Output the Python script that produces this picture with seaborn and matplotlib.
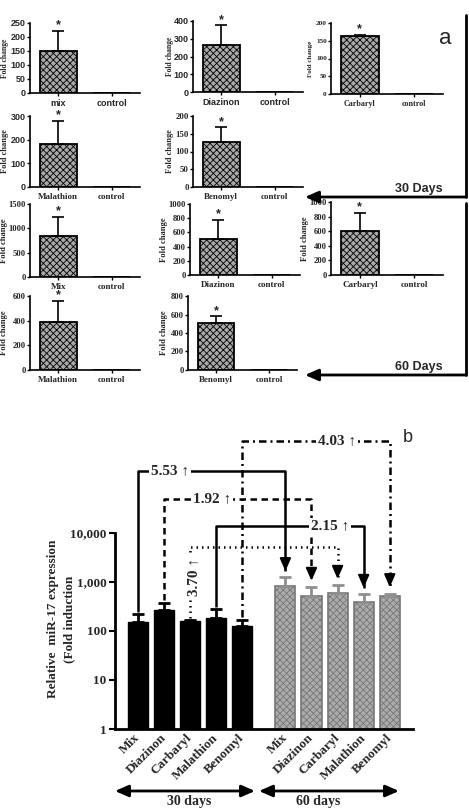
import numpy as np
import pandas as pd
import matplotlib
matplotlib.use("Agg")
import matplotlib.pyplot as plt
import seaborn as sns

# ---------------- data ----------------
compounds_b = ["Mix", "Diazinon", "Carbaryl", "Malathion", "Benomyl"]
labels_a_30 = ["mix", "Diazinon", "Carbaryl", "Malathion", "Benomyl"]
labels_a_60 = ["Mix", "Diazinon", "Carbaryl", "Malathion", "Benomyl"]
fold_30 = [150, 265, 163, 180, 127]
sem_30 = [72, 110, 3, 100, 41]
fold_60 = [840, 510, 600, 390, 510]
sem_60 = [390, 270, 255, 170, 70]
control_fold = 1
ymax_30 = [250, 400, 200, 300, 200]
ystep_30 = [50, 100, 50, 100, 50]
ymax_60 = [1500, 1000, 1000, 600, 800]
ystep_60 = [500, 200, 200, 200, 200]
fold_increase = ["5.53", "1.92", "3.70", "2.15", "4.03"]
log_ticks = [1, 10, 100, 1000, 10000]
log_tick_labels = ["1", "10", "100", "1,000", "10,000"]
period_labels = ["30 days", "60 days"]

sns.set_style("ticks")
plt.rcParams["hatch.linewidth"] = 0.6
SANS = ["Liberation Sans", "DejaVu Sans"]
SERIF = ["Liberation Serif", "DejaVu Serif"]

W, H = 469, 808
fig = plt.figure(figsize=(W / 100, H / 100), dpi=100)


def add_px(l, t, r, b):
    return fig.add_axes([l / W, 1 - b / H, (r - l) / W, (b - t) / H])


# ---------------- panel a ----------------
rects_30 = [(30, 23, 140, 93), (193, 21, 303, 92), (331, 23, 443, 94),
            (30, 116, 140, 187), (193, 116, 303, 187)]
rects_60 = [(30, 204, 140, 277), (190, 204, 300, 275), (331, 202, 443, 275),
            (30, 296, 140, 370), (188, 296, 297, 370)]
ylab_x_30 = [5, 170, 310, 5, 170]
ylab_x_60 = [4, 164, 305, 4, 164]
# (tick family, tick size, label family, label size, ylabel size)
styles_30 = [(SANS, 6.5, SANS, 6.5, 5.5), (SANS, 6.5, SANS, 6.5, 5.5),
             (SERIF, 5.2, SERIF, 5.8, 5.0), (SANS, 6.5, SERIF, 6.5, 6.0),
             (SERIF, 6.3, SERIF, 6.5, 6.0)]
styles_60 = [(SERIF, 6.2, SERIF, 6.5, 6.2)] * 5


def small_panel(rect, lab, val, sem, ymax, step, st, ylx):
    tf, ts, lf, ls, ys = st
    l, t, r, b = rect
    ax = add_px(*rect)
    sns.barplot(x=[lab, "control"], y=[val, control_fold], color="#a9a9a9",
                edgecolor="black", linewidth=1.3, width=0.69, saturation=1,
                ax=ax)
    for p in ax.patches:
        p.set_hatch("xxxxx")
    ax.errorbar([0], [val], yerr=[[0], [sem]], fmt="none", ecolor="black",
                elinewidth=1.2, capsize=4, capthick=1.2)
    ax.annotate("*", xy=(0, val + sem), xytext=(0, 4),
                textcoords="offset points", ha="center", va="center",
                fontsize=9, fontweight="bold", family=SANS,
                annotation_clip=False)
    ax.set_xlim(-0.53, 1.53)
    ax.set_ylim(0, ymax)
    ax.set_yticks(np.arange(0, ymax + 1, step))
    ax.set_xticks([0, 1])
    ax.set_xticklabels([lab, "control"], family=lf, fontsize=ls,
                       fontweight="bold")
    for tl in ax.get_yticklabels():
        tl.set_family(tf)
        tl.set_fontsize(ts)
        tl.set_fontweight("bold")
    ax.set_xlabel("")
    ax.set_ylabel("Fold change", family=SERIF, fontsize=ys,
                  fontweight="bold", va="center")
    ax.yaxis.set_label_coords((ylx - l) / (r - l), 0.5)
    for s in ["top", "right"]:
        ax.spines[s].set_visible(False)
    for s in ["left", "bottom"]:
        ax.spines[s].set_linewidth(1.2)
        ax.spines[s].set_color("black")
    ax.tick_params(axis="y", length=2.5, width=1, pad=0.5, color="black")
    ax.tick_params(axis="x", length=2, width=1, pad=2, color="black")
    return ax


for i in range(5):
    small_panel(rects_30[i], labels_a_30[i], fold_30[i], sem_30[i],
                ymax_30[i], ystep_30[i], styles_30[i], ylab_x_30[i])
    small_panel(rects_60[i], labels_a_60[i], fold_60[i], sem_60[i],
                ymax_60[i], ystep_60[i], styles_60[i], ylab_x_60[i])

# ---------------- panel b ----------------
axb = add_px(115, 425, 413, 729)
pos_30 = np.arange(5, dtype=float)
pos_60 = np.arange(5, dtype=float) + 5.65
df_b = pd.DataFrame({
    "pos": np.concatenate([pos_30, pos_60]),
    "fold": fold_30 + fold_60,
    "period": [period_labels[0]] * 5 + [period_labels[1]] * 5,
})
sns.barplot(data=df_b, x="pos", y="fold", hue="period",
            palette={period_labels[0]: "black", period_labels[1]: "#ababab"},
            native_scale=True, dodge=False, width=0.77, errorbar=None,
            saturation=1, legend=False, ax=axb)
for p in axb.patches:
    if p.get_x() > 5:
        p.set_edgecolor("#777777")
        p.set_linewidth(1.2)
        p.set_hatch("xxxxx")
    else:
        p.set_edgecolor("black")
axb.set_yscale("log")
axb.errorbar(pos_30, fold_30, yerr=[[0] * 5, sem_30], fmt="none",
             ecolor="black", elinewidth=2, capsize=4, capthick=2)
axb.errorbar(pos_60, fold_60, yerr=[[0] * 5, sem_60], fmt="none",
             ecolor="#8f8f8f", elinewidth=2, capsize=4, capthick=2)
axb.set_ylim(1, 10 ** 6.2)
axb.set_xlim(-0.88, 10.54)
axb.set_yticks(log_ticks)
axb.set_yticklabels(log_tick_labels, family=SERIF, fontsize=9.5,
                    fontweight="bold")
axb.minorticks_off()
axb.set_xticks(np.concatenate([pos_30, pos_60]))
axb.set_xticklabels(compounds_b + compounds_b, rotation=45, ha="right",
                    va="center", rotation_mode="anchor", family=SERIF,
                    fontsize=9.5, fontweight="bold")
axb.tick_params(axis="x", length=0, pad=5)
axb.tick_params(axis="y", length=4, width=1.5, pad=2, color="black")
axb.set_xlabel("")
axb.set_ylabel("")
axb.spines["top"].set_visible(False)
axb.spines["right"].set_visible(False)
axb.spines["left"].set_bounds(1, 10000)
for s in ["left", "bottom"]:
    axb.spines[s].set_linewidth(2)
    axb.spines[s].set_color("black")
axb.patch.set_alpha(0)

# comparison brackets (30 days -> 60 days)
levels = [5.27, 4.69, 3.71, 4.14, 5.88]
text_x = [1.23, 2.84, None, 7.36, 7.62]
styles_b = ["-", (0, (2.6, 1.8)), (0, (0.6, 1.6)), "-",
            (0, (3, 1.6, 0.8, 1.6))]
for i in range(5):
    yl = 10 ** levels[i]
    xa, xb = pos_30[i], pos_60[i]
    y_start = (fold_30[i] + sem_30[i]) * 1.12
    tip = (fold_60[i] + sem_60[i]) * 1.35
    axb.plot([xa, xa, xb, xb], [y_start, yl, yl, tip], color="black",
             lw=1.8, ls=styles_b[i], solid_capstyle="butt",
             dash_capstyle="butt", zorder=5)
    axb.annotate("", xy=(xb, tip), xytext=(0, 9), textcoords="offset points",
                 arrowprops=dict(arrowstyle="-|>,head_length=0.75,head_width=0.33",
                                 mutation_scale=10, lw=1.5, color="black",
                                 shrinkA=0, shrinkB=0), zorder=6)
    if text_x[i] is not None:
        axb.text(text_x[i], yl, fold_increase[i] + " \u2191", ha="center",
                 va="center", family=SERIF, fontsize=11, fontweight="bold",
                 zorder=7,
                 bbox=dict(boxstyle="square,pad=0.12", fc="white", ec="none"))
    else:
        axb.text(xa + 0.15, 10 ** 3.1, fold_increase[i] + " \u2191",
                 ha="center", va="center", rotation=90, family=SERIF,
                 fontsize=11, fontweight="bold", zorder=7,
                 bbox=dict(boxstyle="square,pad=0.1", fc="white", ec="none"))

# ---------------- overlay (pixel coordinates) ----------------
ov = fig.add_axes([0, 0, 1, 1])
ov.set_xlim(0, W)
ov.set_ylim(H, 0)
ov.axis("off")
ov.patch.set_alpha(0)

arrow_l = dict(arrowstyle="-|>,head_length=0.8,head_width=0.35",
               mutation_scale=10, lw=2, color="black", shrinkA=0, shrinkB=0)
ov.plot([466, 466], [15, 197], color="black", lw=2)
ov.annotate("", xy=(305, 197), xytext=(466, 197), arrowprops=arrow_l)
ov.plot([466, 466], [203, 375], color="black", lw=2)
ov.annotate("", xy=(305, 375), xytext=(466, 375), arrowprops=arrow_l)
ov.text(419, 189, "30 Days", ha="center", va="center", family=SANS,
        fontsize=9, fontweight="bold")
ov.text(419, 367, "60 Days", ha="center", va="center", family=SANS,
        fontsize=9, fontweight="bold")
ov.text(445, 38, "a", ha="center", va="center", family=SANS, fontsize=16)
ov.text(408, 437, "b", ha="center", va="center", family=SANS, fontsize=13)

ov.text(61, 619, "Relative  miR-17 expression\n(Fold induction", rotation=90,
        ha="center", va="center", family=SERIF, fontsize=9.5,
        fontweight="bold", linespacing=1.55, multialignment="center")

arrow_d = dict(arrowstyle="<|-|>,head_length=0.8,head_width=0.35",
               mutation_scale=10, lw=2, color="black", shrinkA=0, shrinkB=0)
ov.annotate("", xy=(115, 791), xytext=(255, 791), arrowprops=arrow_d)
ov.annotate("", xy=(259, 791), xytext=(399, 791), arrowprops=arrow_d)
ov.text(189, 802, period_labels[0], ha="center", va="center", family=SERIF,
        fontsize=10, fontweight="bold")
ov.text(318, 802, period_labels[1], ha="center", va="center", family=SERIF,
        fontsize=10, fontweight="bold")

fig.savefig("out.png", dpi=100)
